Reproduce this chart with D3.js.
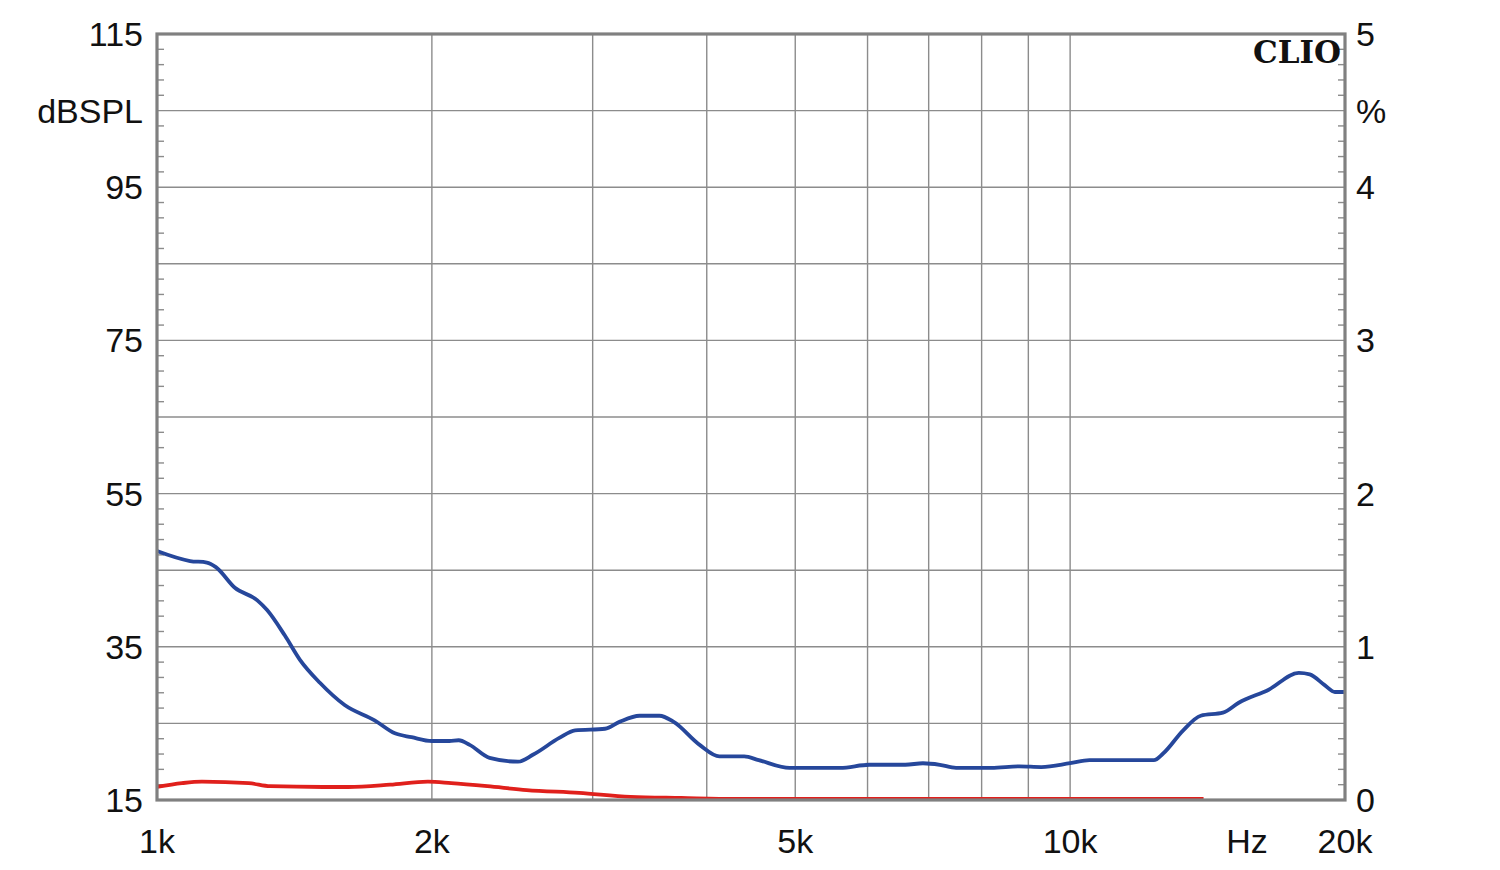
<!DOCTYPE html>
<html><head><meta charset="utf-8">
<script src="https://cdn.jsdelivr.net/npm/d3@7"></script>
<style>body{margin:0;background:#fff}svg{display:block}</style>
</head><body><svg id="c" width="1500" height="870"></svg>
<script>
// Data
const splFreq = [1000,1087,1134,1160,1217,1287,1320,1380,1434,1508,1605,1731,1822,1900,2000,2090,2140,2200,2313,2485,2580,2758,2870,3095,3210,3377,3550,3680,3929,4130,4397,4560,4930,5600,6029,6600,6900,7200,7500,8200,8800,9300,10000,10500,12350,12650,13300,13900,14700,15300,16500,17800,18300,19000,19500,20000];
const splDb   = [47.5,46.2,46.0,45.4,42.7,41.1,39.8,36.5,33.3,30.3,27.4,25.4,23.7,23.2,22.7,22.7,22.8,22.2,20.5,20.0,20.9,23.1,24.1,24.3,25.2,26.0,26.0,25.2,22.2,20.7,20.7,20.2,19.2,19.2,19.6,19.6,19.8,19.6,19.2,19.2,19.4,19.3,19.8,20.2,20.2,21.1,24.1,26.0,26.4,27.7,29.4,31.6,31.4,30.0,29.1,29.1];
const thdFreq = [1000,1065,1120,1260,1330,1520,1620,1800,1980,2100,2300,2540,2900,3300,3750,4300,14000];
const thdPct  = [0.085,0.11,0.12,0.11,0.09,0.085,0.085,0.1,0.12,0.11,0.09,0.065,0.046,0.02,0.013,0.007,0.007];
const dbTicks = [115,105,95,85,75,65,55,45,35,25,15];
const dbLabels = ["115","dBSPL","95","","75","","55","","35","","15"];
const pctLabels = ["5","%","4","","3","","2","","1","","0"];
const freqGrid = [2000,3000,4000,5000,6000,7000,8000,9000,10000];
const freqLabels = [[1000,"1k"],[2000,"2k"],[5000,"5k"],[10000,"10k"],[15000,"Hz"],[20000,"20k"]];

const L=157,R=1345,T=34,B=800;
const svg=d3.select("#c");
const x=d3.scaleLog().domain([1000,20000]).range([L,R]);
const y=d3.scaleLinear().domain([15,115]).range([B,T]);
const y2=d3.scaleLinear().domain([0,5]).range([B,T]);
const font="'Liberation Sans',Arial,sans-serif";
const fs=34;

const g=svg.append("g");
g.selectAll("line.h").data(dbTicks.slice(1,-1)).join("line")
 .attr("x1",L).attr("x2",R).attr("y1",d=>y(d)).attr("y2",d=>y(d))
 .attr("stroke","#8c8c8c").attr("stroke-width",1.4);
g.selectAll("line.v").data(freqGrid).join("line")
 .attr("y1",T).attr("y2",B).attr("x1",d=>x(d)).attr("x2",d=>x(d))
 .attr("stroke","#8c8c8c").attr("stroke-width",1.4);
const minor=d3.range(17,115,2).filter(v=>(v-15)%10!==0);
g.selectAll("line.ml").data(minor).join("line")
 .attr("x1",L).attr("x2",L+7).attr("y1",d=>y(d)).attr("y2",d=>y(d))
 .attr("stroke","#8c8c8c").attr("stroke-width",1.4);
g.selectAll("line.mr").data(minor).join("line")
 .attr("x1",R-7).attr("x2",R).attr("y1",d=>y(d)).attr("y2",d=>y(d))
 .attr("stroke","#8c8c8c").attr("stroke-width",1.4);

const lineSpl=d3.line().x((d,i)=>x(splFreq[i])).y(d=>y(d)).curve(d3.curveMonotoneX);
svg.append("path").attr("d",lineSpl(splDb)).attr("fill","none")
 .attr("stroke","#26479b").attr("stroke-width",3.8).attr("stroke-linejoin","round");
const lineThd=d3.line().x((d,i)=>x(thdFreq[i])).y(d=>y2(d)).curve(d3.curveMonotoneX);
svg.append("path").attr("d",lineThd(thdPct)).attr("fill","none")
 .attr("stroke","#e0201c").attr("stroke-width",3.8);

svg.append("rect").attr("x",L).attr("y",T).attr("width",R-L).attr("height",B-T)
 .attr("fill","none").attr("stroke","#808080").attr("stroke-width",3.2);

svg.selectAll("text.l").data(dbTicks.map((d,i)=>[d,dbLabels[i]]).filter(d=>d[1])).join("text")
 .attr("x",143).attr("y",d=>y(d[0])+12).attr("text-anchor","end")
 .attr("font-family",font).attr("font-size",fs).attr("fill","#111").text(d=>d[1]);
svg.selectAll("text.r").data(dbTicks.map((d,i)=>[d,pctLabels[i]]).filter(d=>d[1])).join("text")
 .attr("x",1356).attr("y",d=>y(d[0])+12).attr("text-anchor","start")
 .attr("font-family",font).attr("font-size",fs).attr("fill","#111").text(d=>d[1]);
svg.selectAll("text.b").data(freqLabels).join("text")
 .attr("x",d=>d[1]==="Hz"?1247:x(d[0])).attr("y",853).attr("text-anchor","middle")
 .attr("font-family",font).attr("font-size",fs).attr("fill","#111").text(d=>d[1]);

svg.append("text").attr("x",1341).attr("y",63).attr("text-anchor","end")
 .attr("font-family","'DejaVu Serif','Liberation Serif',serif").attr("font-weight","bold")
 .attr("font-size",31).attr("fill","#111").text("CLIO");
</script></body></html>
